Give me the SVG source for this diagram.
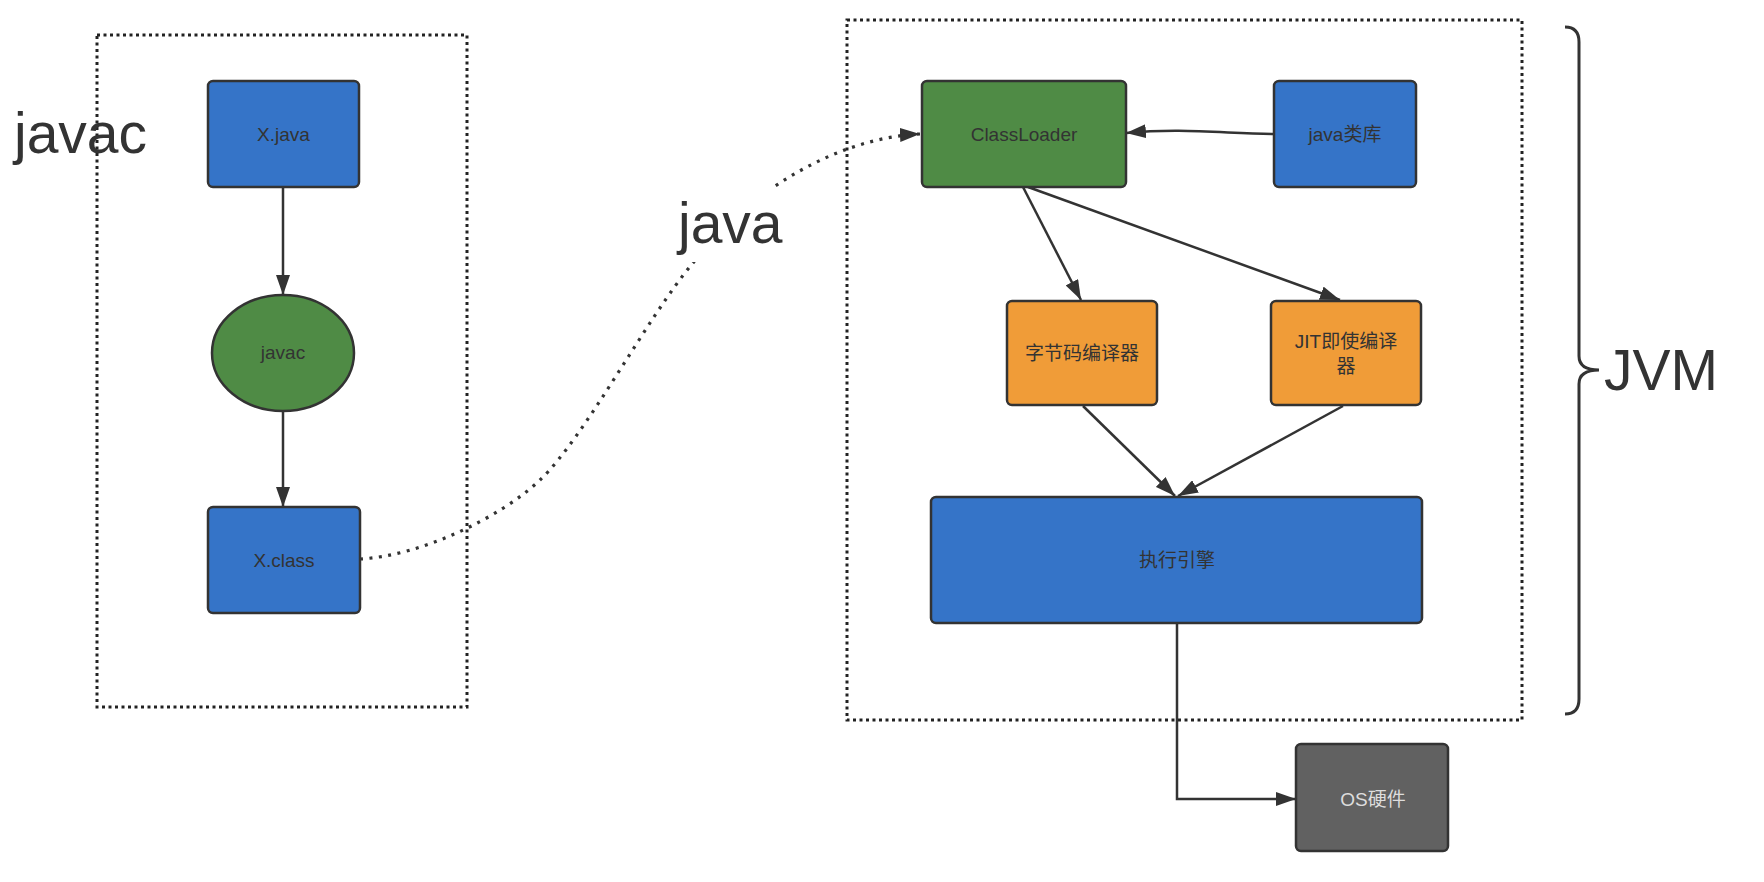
<svg xmlns="http://www.w3.org/2000/svg" width="1764" height="882" viewBox="0 0 1764 882">
<style>
  .node { stroke: #333; stroke-width: 2.5; }
  .blue { fill: #3574C8; }
  .green { fill: #4F8B45; }
  .orange { fill: #F09C38; }
  .gray { fill: #616161; }
  .lbl { font-family: "Liberation Sans", "Noto Sans CJK SC", sans-serif; font-size: 19px; fill: #333; text-anchor: middle; }
  .big { font-family: "Liberation Sans", "Noto Sans CJK SC", sans-serif; font-size: 57px; fill: #333; }
  .frame { fill: none; stroke: #222; stroke-width: 3; stroke-dasharray: 3 3.5; }
  .edge { fill: none; stroke: #333; stroke-width: 2.5; }
  .dotted { fill: none; stroke: #333; stroke-width: 3.2; stroke-dasharray: 3 6.5; }
</style>
<defs>
  <marker id="arrow" markerUnits="userSpaceOnUse" markerWidth="20" markerHeight="14" refX="20" refY="7" orient="auto">
    <path d="M0,0 L20,7 L0,14 z" fill="#333"/>
  </marker>
</defs>
<rect width="1764" height="882" fill="#fff"/>

<g id="frame-javac">
  <rect class="frame" x="97" y="35" width="370" height="672"/>
</g>
<g id="frame-jvm">
  <rect class="frame" x="847" y="20" width="675" height="700"/>
</g>

<g id="label-javac">
  <text class="big" x="14" y="153">javac</text>
</g>

<g id="brace-jvm">
  <path d="M1565,27 Q1579,27 1579,42 L1579,356 Q1579,370 1599,370 Q1579,370 1579,384 L1579,699 Q1579,714 1565,714" fill="none" stroke="#333" stroke-width="3"/>
  <text class="big" x="1604" y="390">JVM</text>
</g>

<g id="connectors">
  <path class="edge" d="M283,187 L283,295" marker-end="url(#arrow)"/>
  <path class="edge" d="M283,411 L283,507" marker-end="url(#arrow)"/>
  <path class="dotted" d="M360,559 C420,556 500,518 540,480 C585,437 648,316 693,263 C 740,200 830,138 920,134" marker-end="url(#arrow)"/>
  <path class="edge" d="M1274,134 C1220,133 1180,128 1126,133" marker-end="url(#arrow)"/>
  <path class="edge" d="M1023,187 L1081,300" marker-end="url(#arrow)"/>
  <path class="edge" d="M1028,187 L1340,300" marker-end="url(#arrow)"/>
  <path class="edge" d="M1083,406 L1175,496" marker-end="url(#arrow)"/>
  <path class="edge" d="M1343,406 L1178,496" marker-end="url(#arrow)"/>
  <path class="edge" d="M1177,623 L1177,799 L1296,799" marker-end="url(#arrow)"/>
</g>

<g id="label-java">
  <rect x="676" y="188" width="108" height="74" fill="#fff"/>
  <text class="big" x="678" y="243">java</text>
</g>

<g id="node-xjava">
  <rect class="node blue" x="208" y="81" width="151" height="106" rx="5"/>
  <text class="lbl" x="283.5" y="141">X.java</text>
</g>
<g id="node-javac">
  <ellipse class="node green" cx="283" cy="353" rx="71" ry="58"/>
  <text class="lbl" x="283" y="359">javac</text>
</g>
<g id="node-xclass">
  <rect class="node blue" x="208" y="507" width="152" height="106" rx="5"/>
  <text class="lbl" x="284" y="567">X.class</text>
</g>
<g id="node-classloader">
  <rect class="node green" x="922" y="81" width="204" height="106" rx="5"/>
  <text class="lbl" x="1024" y="141">ClassLoader</text>
</g>
<g id="node-javalib">
  <rect class="node blue" x="1274" y="81" width="142" height="106" rx="5"/>
  <text class="lbl" x="1345" y="141">java类库</text>
</g>
<g id="node-bytecode">
  <rect class="node orange" x="1007" y="301" width="150" height="104" rx="5"/>
  <text class="lbl" x="1082" y="360">字节码编译器</text>
</g>
<g id="node-jit">
  <rect class="node orange" x="1271" y="301" width="150" height="104" rx="5"/>
  <text class="lbl" x="1346" y="348">JIT即使编译</text>
  <text class="lbl" x="1346" y="373">器</text>
</g>
<g id="node-engine">
  <rect class="node blue" x="931" y="497" width="491" height="126" rx="5"/>
  <text class="lbl" x="1177" y="567">执行引擎</text>
</g>
<g id="node-os">
  <rect class="node gray" x="1296" y="744" width="152" height="107" rx="5"/>
  <text class="lbl" x="1373" y="806" style="fill:#ddd">OS硬件</text>
</g>
</svg>
